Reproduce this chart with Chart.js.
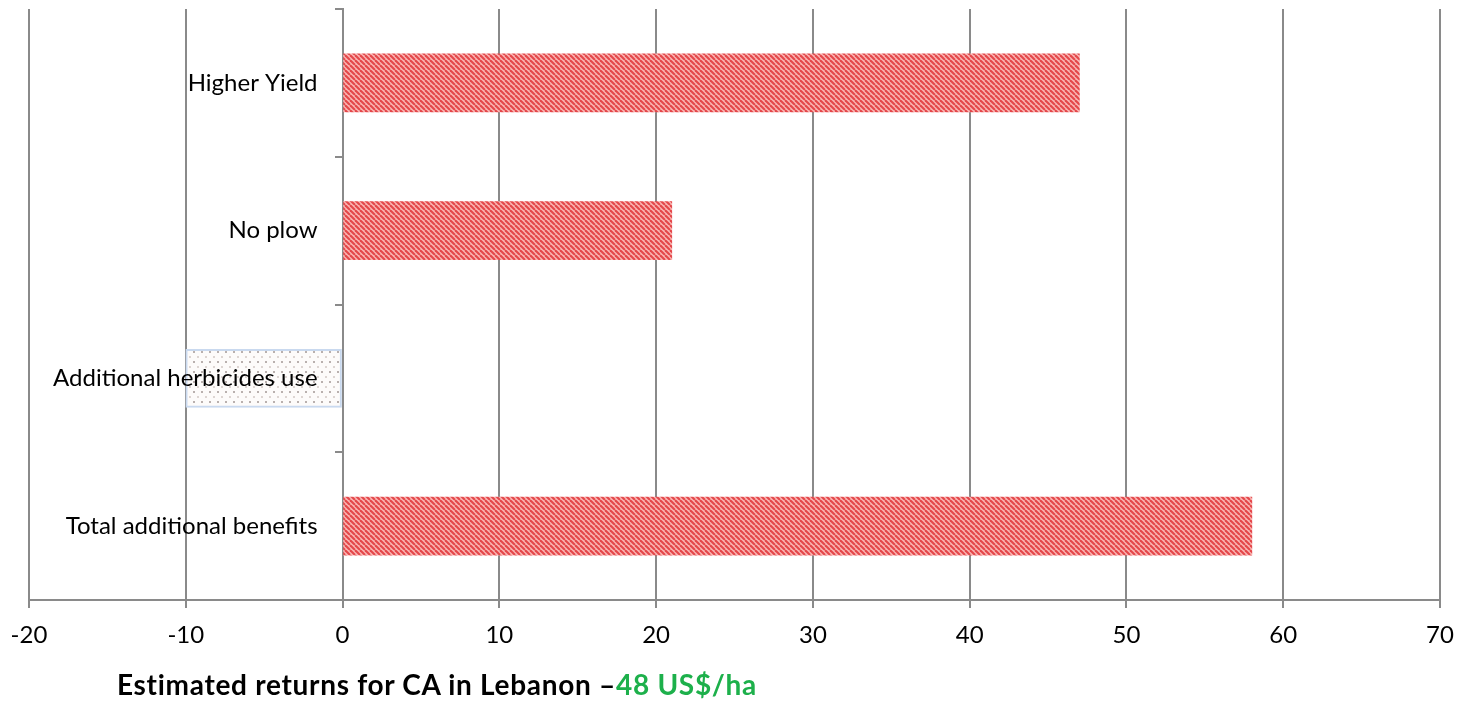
<!DOCTYPE html>
<html>
<head>
<meta charset="utf-8">
<script src="https://cdn.jsdelivr.net/npm/chart.js@4/dist/chart.umd.min.js"></script>
<style>
  html, body { margin: 0; padding: 0; background: #fff; }
  #wrap { position: relative; width: 1459px; height: 701px; }
  #title {
    position: absolute; left: 117px; top: 668px;
    font: bold 28px Lato, sans-serif; letter-spacing: 0.7px; color: #000; white-space: nowrap; line-height: 32px;
  }
  #title span { color: #1db04b; }
</style>
</head>
<body>
<div id="wrap">
  <canvas id="chart" width="1459" height="701"></canvas>
  <div id="title">Estimated returns for CA in Lebanon –<span>48 US$/ha</span></div>
</div>
<script>
// data
const categories = ['Higher Yield', 'No plow', 'Additional herbicides use', 'Total additional benefits'];
const returns = [47, 21, -10, 58];
const xMin = -20, xMax = 70, xStep = 10;

// fill patterns
function stripes() {
  const s = 5;
  const c = document.createElement('canvas');
  c.width = s; c.height = s;
  const g = c.getContext('2d');
  g.fillStyle = '#f9b6b3';
  g.fillRect(0, 0, s, s);
  g.strokeStyle = '#e4474a';
  g.lineWidth = 2.1;
  [-s, 0, s].forEach(o => {
    g.beginPath(); g.moveTo(o, 0); g.lineTo(o + s, s); g.stroke();
  });
  return g.createPattern(c, 'repeat');
}
function dots() {
  const c = document.createElement('canvas');
  c.width = 8; c.height = 10;
  const g = c.getContext('2d');
  g.fillStyle = '#fdfbfa';
  g.fillRect(0, 0, 8, 10);
  g.fillStyle = '#b9b0ae';
  g.fillRect(1, 1, 2, 2);
  g.fillStyle = '#ddd5d2';
  g.fillRect(5, 6, 2, 2);
  return g.createPattern(c, 'repeat');
}
const red = stripes(), dot = dots();

// category labels sit left of the zero line, push them off the tick marks
const labelGap = {
  id: 'labelGap',
  beforeDraw(chart) {
    const items = chart.scales.y.getLabelItems();
    if (!items._shifted) {
      items.forEach(it => { it.options.translation[0] -= 25; });
      items._shifted = true;
    }
  }
};

const font = { family: 'Lato', size: 24 };
const chart = new Chart(document.getElementById('chart'), {
  type: 'bar',
  data: {
    labels: categories,
    datasets: [{
      data: returns,
      backgroundColor: returns.map(v => v < 0 ? dot : red),
      borderColor: returns.map(v => v < 0 ? '#c9d9ef' : 'rgba(0,0,0,0)'),
      borderWidth: returns.map(v => v < 0 ? 2 : 0),
      borderSkipped: false,
      barThickness: 58
    }]
  },
  options: {
    indexAxis: 'y',
    responsive: false,
    animation: false,
    layout: { padding: { left: 29, right: 19, top: 9, bottom: 60 } },
    plugins: { legend: { display: false }, tooltip: { enabled: false } },
    scales: {
      x: {
        min: xMin, max: xMax,
        afterFit(scale) { scale.paddingLeft = 0; scale.paddingRight = 0; },
        ticks: { stepSize: xStep, color: '#000', padding: 13, font },
        grid: { color: '#8a8a8a', lineWidth: 2, tickLength: 8 },
        border: { color: '#8a8a8a', width: 2 }
      },
      y: {
        position: { x: 0 },
        afterFit(scale) { scale.paddingTop = 0; scale.paddingBottom = 0; },
        ticks: { color: '#000', z: 1, font },
        grid: { drawOnChartArea: false, color: '#8a8a8a', lineWidth: 2, tickLength: 7 },
        border: { color: '#8a8a8a', width: 2 }
      }
    }
  },
  plugins: [labelGap]
});

// nudge the plot area onto the reference frame
for (let i = 0; i < 6; i++) {
  const a = chart.chartArea, p = chart.options.layout.padding;
  chart.options.layout.padding = {
    top: p.top + 9 - a.top,
    left: p.left + 29 - a.left,
    right: p.right + a.right - 1440,
    bottom: p.bottom + a.bottom - 600
  };
  chart.update();
}
</script>
</body>
</html>
